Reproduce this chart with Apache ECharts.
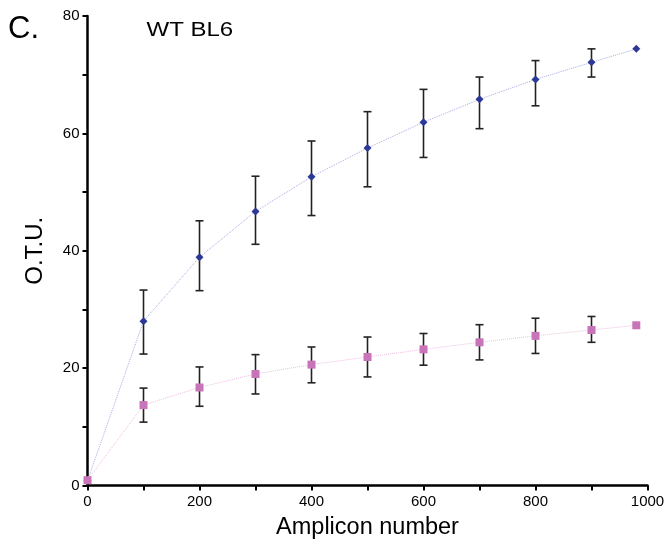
<!DOCTYPE html>
<html>
<head>
<meta charset="utf-8">
<script src="https://cdn.jsdelivr.net/npm/echarts@6/dist/echarts.min.js"></script>
<style>
  html, body { margin: 0; padding: 0; background: #fff; }
  #container { width: 671px; height: 548px; }
</style>
</head>
<body>
<div id="container"></div>
<script>
// amplicon numbers
var xs = [0, 100, 200, 300, 400, 500, 600, 700, 800, 900, 980];

// upper curve (blue diamonds)
var blue   = [0.8, 28.0, 38.9, 46.7, 52.6, 57.5, 61.9, 65.8, 69.2, 72.1, 74.4];
var blueHi = [null, 33.3, 45.1, 52.7, 58.7, 63.7, 67.5, 69.6, 72.4, 74.4, null];
var blueLo = [null, 22.4, 33.2, 41.1, 46.0, 50.9, 55.9, 60.8, 64.7, 69.6, null];

// lower curve (pink squares)
var pink   = [0.9, 13.7, 16.7, 19.0, 20.6, 21.9, 23.2, 24.4, 25.5, 26.5, 27.3];
var pinkHi = [null, 16.6, 20.2, 22.3, 23.6, 25.3, 25.9, 27.4, 28.5, 28.8, null];
var pinkLo = [null, 10.8, 13.5, 15.6, 17.5, 18.5, 20.5, 21.4, 22.5, 24.4, null];

function pairs(ys) {
    return xs.map(function (x, i) { return [x, ys[i]]; });
}
function bars(lo, hi) {
    var out = [];
    xs.forEach(function (x, i) {
        if (lo[i] != null) out.push([x, lo[i], hi[i]]);
    });
    return out;
}

function errorBar(params, api) {
    var x = api.value(0);
    var lo = api.coord([x, api.value(1)]);
    var hi = api.coord([x, api.value(2)]);
    var w = 4;
    var st = { stroke: '#222', lineWidth: 1.6 };
    return {
        type: 'group',
        children: [
            { type: 'line', shape: { x1: hi[0], y1: hi[1], x2: lo[0], y2: lo[1] }, style: st },
            { type: 'line', shape: { x1: hi[0] - w, y1: hi[1], x2: hi[0] + w, y2: hi[1] }, style: st },
            { type: 'line', shape: { x1: lo[0] - w, y1: lo[1], x2: lo[0] + w, y2: lo[1] }, style: st }
        ]
    };
}

var font = '"Liberation Sans", Arial, sans-serif';
var myChart = echarts.init(document.getElementById('container'));
var option = {
    animation: false,
    grid: { left: 87.5, right: 23.5, top: 16, bottom: 62.5 },
    graphic: [
        {
            type: 'text', x: 8, y: 29,
            style: { text: 'C.', font: '31px ' + font, fill: '#000', verticalAlign: 'middle' }
        },
        {
            type: 'text', x: 146.5, y: 30.3, scaleX: 1.2,
            style: { text: 'WT BL6', font: '20px ' + font, fill: '#000', verticalAlign: 'middle' }
        }
    ],
    xAxis: {
        type: 'value', min: 0, max: 1000, interval: 100,
        name: 'Amplicon number', nameLocation: 'middle', nameGap: 30,
        nameTextStyle: { fontFamily: font, fontSize: 23.5, color: '#000' },
        axisLine: { lineStyle: { color: '#000', width: 2.5 } },
        axisTick: { length: 5, lineStyle: { color: '#000', width: 2 } },
        axisLabel: {
            fontFamily: font, fontSize: 15, color: '#000', margin: 9,
            formatter: function (v) { return v % 200 === 0 ? String(v) : ''; }
        },
        splitLine: { show: false }
    },
    yAxis: {
        type: 'value', min: 0, max: 80, interval: 10,
        name: 'O.T.U.', nameLocation: 'middle', nameGap: 40,
        nameTextStyle: { fontFamily: font, fontSize: 24, color: '#000' },
        axisLine: { show: true, lineStyle: { color: '#000', width: 2.5 } },
        axisTick: { show: true, length: 5, lineStyle: { color: '#000', width: 2 } },
        axisLabel: {
            fontFamily: font, fontSize: 15, color: '#000', margin: 8,
            formatter: function (v) { return v % 20 === 0 ? String(v) : ''; }
        },
        splitLine: { show: false }
    },
    series: [
        {
            type: 'custom', renderItem: errorBar, data: bars(blueLo, blueHi),
            encode: { x: 0, y: [1, 2] }, z: 1
        },
        {
            type: 'custom', renderItem: errorBar, data: bars(pinkLo, pinkHi),
            encode: { x: 0, y: [1, 2] }, z: 1
        },
        {
            type: 'line', data: pairs(blue), z: 3,
            symbol: 'diamond', symbolSize: 8,
            itemStyle: { color: '#2b3896' },
            lineStyle: { color: '#a9a9e6', width: 1, type: 'dotted' }
        },
        {
            type: 'line', data: pairs(pink), z: 3,
            symbol: 'rect', symbolSize: 8,
            itemStyle: { color: '#c974b8' },
            lineStyle: { color: '#ecbde2', width: 1, type: 'dotted' }
        }
    ]
};
myChart.setOption(option);
</script>
</body>
</html>
